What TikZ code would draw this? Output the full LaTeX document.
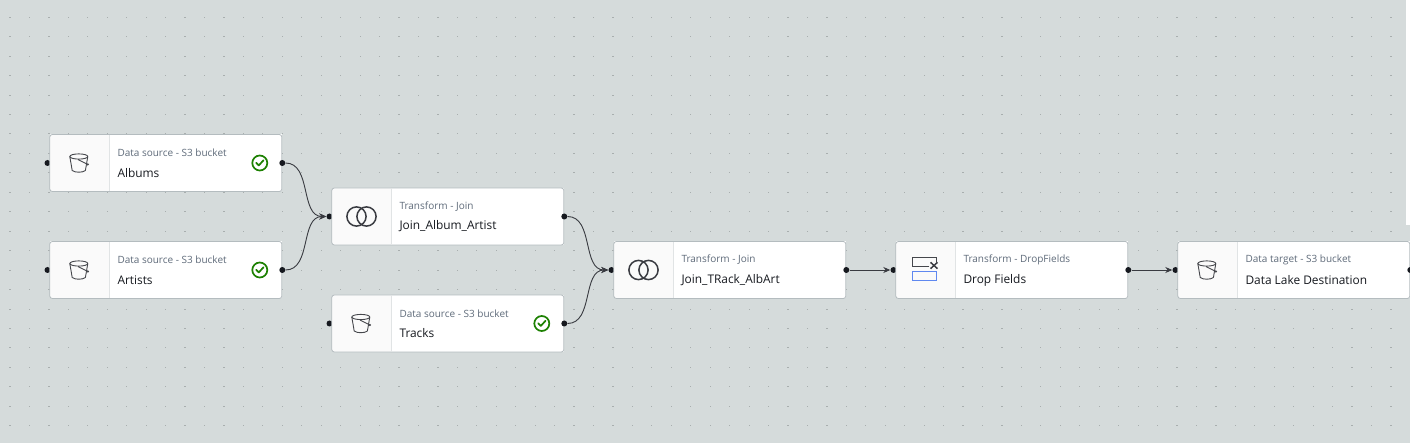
\documentclass[tikz,border=0pt]{standalone}
\usepackage{fontspec}
\setmainfont{Open Sans}
\usetikzlibrary{positioning,arrows.meta}
\definecolor{canvas}{HTML}{D5DBDB}
\definecolor{griddot}{HTML}{A8AEAE}
\definecolor{inkdark}{HTML}{16191F}
\definecolor{inksub}{HTML}{5F6B7A}
\definecolor{panel}{HTML}{FAFAFA}
\definecolor{edgegrey}{HTML}{B4BCBF}
\definecolor{okgreen}{HTML}{1D8102}
\definecolor{dropblue}{HTML}{5F88F0}
\newcommand{\cardparts}[3]{%
	\fill[panel] ([xshift=59.5pt]#1.north west) [rounded corners=2.5pt] -- (#1.north west) -- (#1.south west) [sharp corners] -- ([xshift=59.5pt]#1.south west) -- cycle;
	\draw[edgegrey,line width=.8pt,rounded corners=2.5pt] (#1.north west) rectangle (#1.south east);
	\draw[edgegrey!40,line width=1pt] ([xshift=59.5pt,yshift=-.5pt]#1.north west) -- ([xshift=59.5pt,yshift=.5pt]#1.south west);
	\node[subtext] (#1sub) at ([xshift=67.5pt,yshift=-18.3pt]#1.north west) {#2};
	\node[titletext] (#1title) at ([xshift=67.5pt,yshift=-38.5pt]#1.north west) {#3};
	\node[port] (#1out) at ([xshift=.5pt]#1.east) {};
	\coordinate (#1icon) at ([xshift=30pt]#1.west);
}
\newcommand{\bucketicon}[1]{%
	\begin{scope}[shift={(#1icon)},line width=.9pt,inkdark!80,line join=round]
		\draw (-1,-6.5) ellipse (9 and 2.6);
		\draw (-10,-6.5) -- (-7.6,7.5) .. controls (-5,9.8) and (3,9.8) .. (5.6,7.5) -- (8,-6.5);
		\draw (-1.8,-3.5) -- (8,1.5);
		\fill (8,1.5) circle (1.2);
	\end{scope}
}
\newcommand{\joinicon}[1]{%
	\begin{scope}[shift={(#1icon)},line width=1.5pt,inkdark!85]
		\draw (-5.3,0) circle (9.6);
		\draw (4.7,0) circle (9.6);
	\end{scope}
}
\newcommand{\dropicon}[1]{%
	\begin{scope}[shift={(#1icon)}]
		\draw[inkdark!80,line width=1.6pt] (3.5,-3.5) -- (-13.3,-3.5) -- (-13.3,-12.5) -- (10.7,-12.5) -- (10.7,-8);
		\draw[inkdark!85,line width=1.5pt] (4.7,-7.7) -- (11.7,-1.3) (4.7,-1.3) -- (11.7,-7.7);
		\draw[dropblue,line width=1.6pt] (-13.3,1.5) rectangle (10.7,10.5);
	\end{scope}
}
\newcommand{\okmark}[1]{%
	\node[okcircle] (#1check) at ([xshift=-22pt]#1.east) {};
	\draw[okgreen,line width=1.7pt,line cap=round,line join=round] ([xshift=-3.6pt,yshift=.2pt]#1check.center) -- ([xshift=-1pt,yshift=-2.4pt]#1check.center) -- ([xshift=3.8pt,yshift=2.8pt]#1check.center);
}
\begin{document}
\begin{tikzpicture}[x=1pt,y=-1pt,
	card/.style={rectangle,fill=white,outer sep=0,inner sep=0,minimum width=232pt,minimum height=57pt},
	subtext/.style={anchor=west,inner sep=0,font=\fontsize{10pt}{12pt}\selectfont,text=inksub},
	titletext/.style={anchor=west,inner sep=0,font=\fontsize{11.9pt}{14pt}\selectfont,text=inkdark},
	port/.style={circle,fill=inkdark,inner sep=0,minimum size=6pt},
	okcircle/.style={circle,draw=okgreen,line width=1.7pt,inner sep=0,minimum size=15pt},
	wire/.style={inkdark!85,line width=.9pt,-{Stealth[length=7pt,width=6pt]}},
	griddots/.style={griddot},
	node distance = 50pt]
	\useasboundingbox (0,0) rectangle (1410,443);
	\fill[canvas] (0,0) rectangle (1410,443);
	\foreach \i in {0,...,71}
		\foreach \j in {0,...,21}
			\fill[griddots] ({10+19.45*\i-.6},{17.3+19.45*\j-.5}) rectangle ++(1.2,1);
	\fill[white] (1406,0) rectangle (1410,225);
	% the cards cover half of these
	\node[port] (albumsin) at (47.5,163) {};
	\node[port] (artistsin) at (47.5,270) {};
	\node[port] (joinaain) at (329.5,216.5) {};
	\node[port] (tracksin) at (329.5,323.5) {};
	\node[port] (jointain) at (611.5,270) {};
	\node[port] (dropfin) at (893.5,270) {};
	\node[port] (targetin) at (1175.5,270) {};
	\node[card] (albums) at (165.8,163) {};
	\node[card] (artists)[below = of albums]{};
	\node[card] (joinaa) at (447.8,216.5) {};
	\node[card] (tracks)[below = of joinaa]{};
	\node[card] (jointa) at (729.8,270) {};
	\node[card] (dropf)[right = of jointa]{};
	\node[card] (target)[right = of dropf]{};
	\cardparts{albums}{Data source - S3 bucket}{Albums}
	\cardparts{artists}{Data source - S3 bucket}{Artists}
	\cardparts{joinaa}{Transform - Join}{Join\_Album\_Artist}
	\cardparts{tracks}{Data source - S3 bucket}{Tracks}
	\cardparts{jointa}{Transform - Join}{Join\_TRack\_AlbArt}
	\cardparts{dropf}{Transform - DropFields}{Drop Fields}
	\cardparts{target}{Data target - S3 bucket}{Data Lake Destination}
	\bucketicon{albums}
	\bucketicon{artists}
	\bucketicon{tracks}
	\bucketicon{target}
	\joinicon{joinaa}
	\joinicon{jointa}
	\dropicon{dropf}
	\okmark{albums}
	\okmark{artists}
	\okmark{tracks}
	\draw[wire] (albumsout) to [out=0,in=180] (joinaain);
	\draw[wire] (artistsout) to [out=0,in=180] (joinaain);
	\draw[wire] (joinaaout) to [out=0,in=180] (jointain);
	\draw[wire] (tracksout) to [out=0,in=180] (jointain);
	\draw[wire] (jointaout) -- (dropfin);
	\draw[wire] (dropfout) -- (targetin);
\end{tikzpicture}
\end{document}
